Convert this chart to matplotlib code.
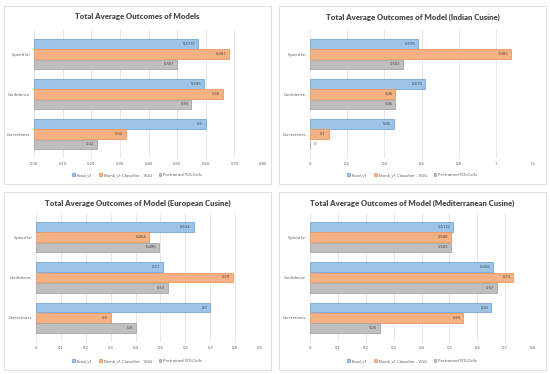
import matplotlib
matplotlib.use("Agg")
import matplotlib.pyplot as plt
from matplotlib.patches import Rectangle
import numpy as np

plt.rcParams['font.family'] = ['Lato', 'DejaVu Sans']

# data: rows are categories (top to bottom), one list per model
categories = ['Speed (s)', 'Confidence', 'Correctness']
models = ['Food_v1', 'Monk_v1 Classifier - VGG', 'Pretrained YOLOv3s']

titles = ['Total Average Outcomes of Models',
          'Total Average Outcomes of Model (Indian Cusine)',
          'Total Average Outcomes of Model (European Cusine)',
          'Total Average Outcomes of Model (Mediterranean Cusine)']

all_food = [0.5731, 0.595, 0.6]
all_monk = [0.681, 0.66, 0.32]
all_yolo = [0.501, 0.55, 0.22]

ind_food = [0.579, 0.619, 0.45]
ind_monk = [1.083, 0.46, 0.1]
ind_yolo = [0.503, 0.46, 0]

eur_food = [0.633, 0.51, 0.7]
eur_monk = [0.454, 0.79, 0.3]
eur_yolo = [0.495, 0.53, 0.4]

med_food = [0.5132, 0.656, 0.65]
med_monk = [0.506, 0.73, 0.55]
med_yolo = [0.505, 0.67, 0.25]

all_labels = [['0.5731', '0.681', '0.501'], ['0.595', '0.66', '0.55'], ['0.6', '0.32', '0.22']]

x_ticks = [np.arange(0, 0.81, 0.1), np.arange(0, 1.21, 0.2),
           np.arange(0, 0.91, 0.1), np.arange(0, 0.81, 0.1)]
x_tick_labels = [['0.00', '0.10', '0.20', '0.30', '0.40', '0.50', '0.60', '0.70', '0.80'],
                 ['0', '0.2', '0.4', '0.6', '0.8', '1', '1.2'],
                 ['0', '0.1', '0.2', '0.3', '0.4', '0.5', '0.6', '0.7', '0.8', '0.9'],
                 ['0', '0.1', '0.2', '0.3', '0.4', '0.5', '0.6', '0.7', '0.8']]

datasets = [(all_food, all_monk, all_yolo),
            (ind_food, ind_monk, ind_yolo),
            (eur_food, eur_monk, eur_yolo),
            (med_food, med_monk, med_yolo)]

fills = ['#9dc3e6', '#f4b183', '#bfbfbf']
edges = ['#6fa5d8', '#ee9a62', '#a5a5a5']

small = ['Open Sans', 'DejaVu Sans']
fs = 3.0

W, H = 550, 374
fig = plt.figure(figsize=(5.5, 3.74), dpi=100)
fig.patch.set_facecolor('white')

# panel frames (pixel coords, y from top)
frames = [(4, 6, 267, 178), (279, 6, 267, 178), (4, 192, 267, 178), (279, 192, 267, 178)]
axes_px = [(34, 30, 229, 128), (310, 30, 223, 128), (36, 213, 224, 129), (310, 213, 223, 129)]

for i in range(4):
    fx, fy, fw, fh = frames[i]
    fig.patches.append(Rectangle((fx / W, 1 - (fy + fh) / H), fw / W, fh / H,
                                 transform=fig.transFigure, facecolor='none',
                                 edgecolor='#d9d9d9', linewidth=0.6, zorder=-1))
    px, py, pw, ph = axes_px[i]
    ax = fig.add_axes([px / W, 1 - (py + ph) / H, pw / W, ph / H])
    ax.set_facecolor('none')

    food, monk, yolo = datasets[i]
    pos = np.arange(len(categories))
    off = 0.255
    hgt = 0.235
    xmax = x_ticks[i][-1]
    for j, vals in enumerate([food, monk, yolo]):
        yy = pos + (j - 1) * off
        ax.barh(yy, vals, height=hgt, color=fills[j], edgecolor=edges[j],
                linewidth=0.6, label=models[j], zorder=3)
        for k, v in enumerate(vals):
            if i == 0:
                txt = all_labels[k][j]
            else:
                txt = f'{v:g}'
            if v > 0:
                ax.text(v - 0.012 * xmax, yy[k], txt, ha='right', va='center',
                        fontsize=fs, family=small, color='#3a3a3a', zorder=4)
            else:
                ax.text(v + 0.015 * xmax, yy[k], txt, ha='left', va='center',
                        fontsize=fs, family=small, color='#3a3a3a', zorder=4)

    ax.set_ylim(2.6, -0.6)
    ax.set_yticks(pos)
    ax.set_yticklabels(categories, fontsize=fs, family=small, color='#505050')
    ax.set_xlim(0, xmax)
    ax.set_xticks(x_ticks[i])
    ax.set_xticklabels(x_tick_labels[i], fontsize=fs, family=small, color='#505050')
    ax.tick_params(length=0, pad=3)
    ax.grid(axis='x', color='#e4e4e4', linewidth=0.6, zorder=0)
    for s in ax.spines.values():
        s.set_visible(False)

    # title and legend centred on the panel frame, like Excel
    cx = (fx + fw / 2) / W
    fig.text(cx, 1 - (fy + 11) / H, titles[i], ha='center', va='center',
             fontsize=5.6, fontweight='heavy', color='#4a4a4a')
    ax.legend(loc='center', bbox_to_anchor=(cx, 1 - (fy + 169) / H),
              bbox_transform=fig.transFigure, ncol=3, frameon=False,
              prop={'family': small, 'size': fs}, labelcolor='#505050',
              handlelength=0.6, handleheight=0.6, handletextpad=0.5, columnspacing=1.6)

fig.savefig('out.png', dpi=100, facecolor='white')
